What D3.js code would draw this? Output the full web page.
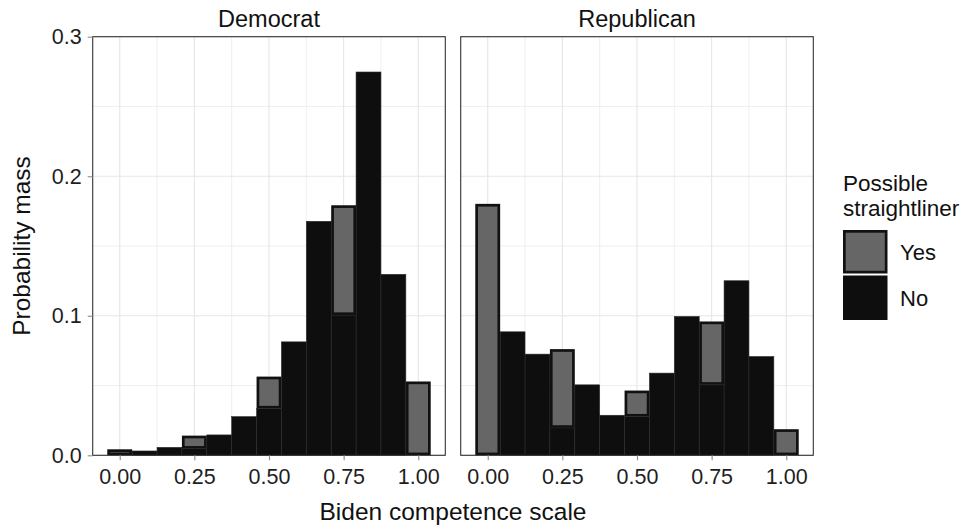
<!DOCTYPE html>
<html>
<head>
<meta charset="utf-8">
<script src="https://cdn.jsdelivr.net/npm/d3@7"></script>
<style>
  html, body { margin: 0; padding: 0; background: #fff; }
  svg { display: block; font-family: "Liberation Sans", Arial, sans-serif; }
</style>
</head>
<body>
<svg id="chart" width="969" height="529"></svg>
<script>
// Bin centres of the competence scale (width 1/12)
const binCenters = [0, 0.0833, 0.1667, 0.25, 0.3333, 0.4167, 0.5, 0.5833, 0.6667, 0.75, 0.8333, 0.9167, 1];
const binWidth = 0.0833;

// Probability mass per bin, split by possible straightliner status
const demNo  = [0, 0.0031, 0.0057, 0.0047, 0.0146, 0.0277, 0.0335, 0.0813, 0.1677, 0.1005, 0.2747, 0.1297, 0];
const demYes = [0.0043, 0, 0, 0.0094, 0, 0, 0.0229, 0, 0, 0.0787, 0, 0, 0.0529];
const repNo  = [0, 0.0885, 0.0725, 0.0196, 0.0505, 0.0287, 0.0277, 0.0589, 0.0995, 0.0505, 0.1251, 0.0708, 0];
const repYes = [0.1802, 0, 0, 0.0565, 0, 0, 0.0187, 0, 0, 0.0454, 0, 0, 0.0187];

const facets = ["Democrat", "Republican"];
const xTicks = [0, 0.25, 0.5, 0.75, 1];
const xMinor = [0.125, 0.375, 0.625, 0.875];
const yTicks = [0, 0.1, 0.2, 0.3];
const yMinor = [0.05, 0.15, 0.25];
const legendTitle = ["Possible", "straightliner"];
const legendLabels = ["Yes", "No"];

const svg = d3.select("#chart");
const panelTop = 36.7, panelBottom = 455.3, panelW = 352.6;
const panelLefts = [92.7, 460.7];
const yesFill = "#666666", noFill = "#0e0e0e";
const yesStroke = 2.7;
const tickFont = "21.5px", titleFont = "24.5px", stripFont = "23.5px";

const y = d3.scaleLinear().domain([0, 0.3]).range([panelBottom, panelTop]);

const series = [
  { no: demNo, yes: demYes },
  { no: repNo, yes: repYes }
];

facets.forEach((name, i) => {
  const left = panelLefts[i];
  const x = d3.scaleLinear().domain([-0.0905, 1.0905]).range([left, left + panelW]);
  const g = svg.append("g");

  // grid
  g.selectAll(".ymin").data(yMinor).join("line")
    .attr("x1", left).attr("x2", left + panelW)
    .attr("y1", d => y(d)).attr("y2", d => y(d))
    .attr("stroke", "#ebebeb").attr("stroke-width", 0.8);
  g.selectAll(".xmin").data(xMinor).join("line")
    .attr("y1", panelTop).attr("y2", panelBottom)
    .attr("x1", d => x(d)).attr("x2", d => x(d))
    .attr("stroke", "#ebebeb").attr("stroke-width", 0.8);
  g.selectAll(".ymaj").data(yTicks).join("line")
    .attr("x1", left).attr("x2", left + panelW)
    .attr("y1", d => y(d)).attr("y2", d => y(d))
    .attr("stroke", "#e6e6e6").attr("stroke-width", 1.1);
  g.selectAll(".xmaj").data(xTicks).join("line")
    .attr("y1", panelTop).attr("y2", panelBottom)
    .attr("x1", d => x(d)).attr("x2", d => x(d))
    .attr("stroke", "#e6e6e6").attr("stroke-width", 1.1);

  const rows = binCenters.map((c, k) => ({ c, no: series[i].no[k], yes: series[i].yes[k] }));

  // "No" portion at the bottom of each stack
  g.selectAll(".no").data(rows.filter(d => d.no > 0)).join("rect")
    .attr("x", d => x(d.c - binWidth / 2))
    .attr("width", d => x(d.c + binWidth / 2) - x(d.c - binWidth / 2))
    .attr("y", d => y(d.no))
    .attr("height", d => y(0) - y(d.no))
    .attr("fill", noFill).attr("stroke", "#2b2b2b").attr("stroke-width", 0.6);

  // "Yes" portion stacked on top, with a heavy outline drawn inside the bar
  g.selectAll(".yes").data(rows.filter(d => d.yes > 0)).join("rect")
    .attr("x", d => x(d.c - binWidth / 2) + yesStroke / 2)
    .attr("width", d => x(d.c + binWidth / 2) - x(d.c - binWidth / 2) - yesStroke)
    .attr("y", d => y(d.no + d.yes) + yesStroke / 2)
    .attr("height", d => Math.max(0, y(d.no) - y(d.no + d.yes) - yesStroke))
    .attr("fill", yesFill).attr("stroke", "#111").attr("stroke-width", yesStroke);

  // panel border
  g.append("rect").attr("x", left).attr("y", panelTop)
    .attr("width", panelW).attr("height", panelBottom - panelTop)
    .attr("fill", "none").attr("stroke", "#333").attr("stroke-width", 1.1);

  // x axis
  const xa = g.append("g").attr("transform", `translate(0,${panelBottom})`)
    .call(d3.axisBottom(x).tickValues(xTicks).tickFormat(d3.format(".2f")).tickSize(5).tickPadding(8));
  xa.select(".domain").remove();
  xa.selectAll("line").attr("stroke", "#8c8c8c").attr("stroke-width", 1.1);
  xa.selectAll("text").attr("fill", "#1e1e1e").style("font-size", tickFont)
    .style("font-family", "'Liberation Sans', Arial, sans-serif");

  // strip title
  svg.append("text").attr("x", left + panelW / 2).attr("y", 27)
    .attr("text-anchor", "middle").style("font-size", stripFont).attr("fill", "#111").text(name);

  if (i === 0) {
    const ya = g.append("g").attr("transform", `translate(${left},0)`)
      .call(d3.axisLeft(y).tickValues(yTicks).tickFormat(d3.format(".1f")).tickSize(5).tickPadding(6));
    ya.select(".domain").remove();
    ya.selectAll("line").attr("stroke", "#8c8c8c").attr("stroke-width", 1.1);
    ya.selectAll("text").attr("fill", "#1e1e1e").style("font-size", tickFont)
      .style("font-family", "'Liberation Sans', Arial, sans-serif");
  }
});

// axis titles
svg.append("text").attr("x", (panelLefts[0] + panelLefts[1] + panelW) / 2).attr("y", 520)
  .attr("text-anchor", "middle").style("font-size", titleFont).attr("fill", "#111")
  .text("Biden competence scale");
svg.append("text").attr("transform", `translate(30,${(panelTop + panelBottom) / 2}) rotate(-90)`)
  .attr("text-anchor", "middle").style("font-size", titleFont).attr("fill", "#111")
  .text("Probability mass");

// legend
const lg = svg.append("g").attr("transform", "translate(843,0)");
lg.selectAll(".lt").data(legendTitle).join("text")
  .attr("x", 0).attr("y", (d, k) => 191 + k * 25)
  .style("font-size", "22.5px").attr("fill", "#111").text(d => d);

const keyTop = 230, keySize = 44.5;
lg.append("rect").attr("x", 1.35).attr("y", keyTop + 1.35)
  .attr("width", keySize - 2.7).attr("height", keySize - 2.7 - 1)
  .attr("fill", yesFill).attr("stroke", "#111").attr("stroke-width", 2.7);
lg.append("rect").attr("x", 0).attr("y", keyTop + keySize + 1)
  .attr("width", keySize).attr("height", keySize)
  .attr("fill", noFill);
lg.selectAll(".ll").data(legendLabels).join("text")
  .attr("x", 57).attr("y", (d, k) => keyTop + keySize / 2 + 8 + k * (keySize + 1))
  .style("font-size", "22px").attr("fill", "#111").text(d => d);
</script>
</body>
</html>
